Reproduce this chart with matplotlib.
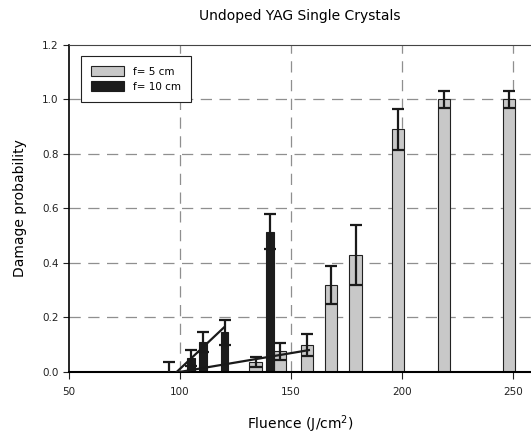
import matplotlib.pyplot as plt

# f = 5 cm (grey bars)
fluence_5 = [134, 145, 157, 168, 179, 198, 219, 248]
prob_5 = [0.035, 0.075, 0.10, 0.32, 0.43, 0.89, 1.0, 1.0]
err_5 = [0.018, 0.032, 0.04, 0.07, 0.11, 0.075, 0.03, 0.03]

# f = 10 cm (black bars)
fluence_10 = [95, 105, 110.5, 120, 140.5]
prob_10 = [0.0, 0.05, 0.11, 0.145, 0.515]
err_10 = [0.035, 0.03, 0.037, 0.045, 0.065]

# linear fits drawn through the data
fit_10_x = [98.5, 120]
fit_10_y = [0.0, 0.165]
fit_5_x = [100, 158]
fit_5_y = [0.0, 0.08]

fig = plt.figure(figsize=(5.31, 4.36), dpi=100)
ax = fig.add_axes([0.13, 0.147, 0.87, 0.75])

ax.bar(fluence_5, prob_5, width=5.5, color="#c8c8c8", edgecolor="#222222",
       linewidth=0.8, label="f= 5 cm", zorder=2)
ax.bar(fluence_10, prob_10, width=3.6, color="#1c1c1c", edgecolor="#1c1c1c",
       linewidth=0.8, label="f= 10 cm", zorder=2)
ax.errorbar(fluence_5, prob_5, yerr=err_5, fmt="none", ecolor="#1a1a1a",
            elinewidth=1.6, capsize=4, capthick=1.6, zorder=3)
ax.errorbar(fluence_10, prob_10, yerr=err_10, fmt="none", ecolor="#1a1a1a",
            elinewidth=1.6, capsize=4, capthick=1.6, zorder=3)

ax.plot(fit_10_x, fit_10_y, color="#1a1a1a", lw=1.6, zorder=4)
ax.plot(fit_5_x, fit_5_y, color="#1a1a1a", lw=1.6, zorder=4)

ax.set_xlim(50, 258)
ax.set_ylim(0, 1.2)
ax.set_xticks([50, 100, 150, 200, 250])
ax.set_yticks([0.0, 0.2, 0.4, 0.6, 0.8, 1.0, 1.2])
ax.set_yticklabels(["0.0", "0.2", "0.4", "0.6", "0.8", "1.0", "1.2"])

# dashed grid only on the inner ticks
for x in [100, 150, 200, 250]:
    ax.axvline(x, color="#8f8f8f", lw=0.9, dashes=(9, 6), zorder=1)
for y in [0.2, 0.4, 0.6, 0.8, 1.0]:
    ax.axhline(y, color="#8f8f8f", lw=0.9, dashes=(9, 6), zorder=1)

ax.spines["right"].set_visible(False)
ax.spines["top"].set_color("#444444")
ax.spines["left"].set_linewidth(1.2)
ax.spines["bottom"].set_linewidth(1.5)
ax.tick_params(labelsize=7.5, direction="out", length=4, colors="#222222")
ax.tick_params(axis="x", length=5, pad=6)

ax.set_xlabel("Fluence (J/cm$^2$)", fontsize=10, labelpad=12)
ax.set_ylabel("Damage probability", fontsize=10, labelpad=11)
ax.set_title("Undoped YAG Single Crystals", fontsize=10, pad=18)

leg = ax.legend(loc="upper left", bbox_to_anchor=(0.025, 0.966), fontsize=7.5,
                fancybox=False, edgecolor="#222222", framealpha=1,
                handlelength=3.2, handleheight=1.0, borderpad=1.0,
                labelspacing=0.45, borderaxespad=0)
leg.get_frame().set_linewidth(0.8)

fig.savefig("out.png", dpi=100)
